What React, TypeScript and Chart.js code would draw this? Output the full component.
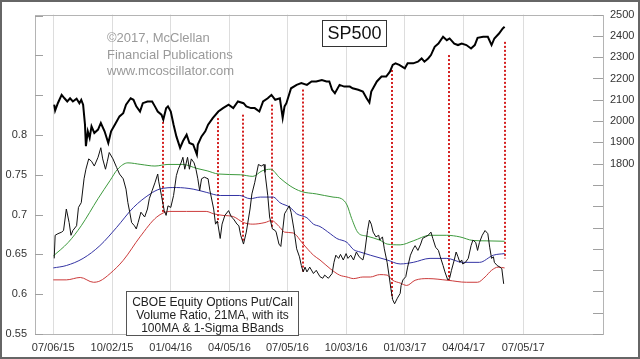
import React, { useEffect, useRef } from "react";
import { Chart, registerables } from "chart.js";
Chart.register(...registerables);

const FONT = "'Liberation Sans', Arial, Helvetica, sans-serif";

// x axis: trading-day index, 0 = 07/06/15
const dateTickIdx = [0, 63, 126, 189, 251, 314, 377, 440, 504];
const dateTickLabels = ["07/06/15", "10/02/15", "01/04/16", "04/05/16", "07/05/16", "10/03/16", "01/03/17", "04/04/17", "07/05/17"];

const ratioTicks = [0.55, 0.6, 0.65, 0.7, 0.75, 0.8, 0.85, 0.9, 0.95];
const ratioTickLabels = ["0.55", "0.6", "0.65", "0.7", "0.75", "0.8", "", "", ""];

const spTicks = [1000, 1100, 1200, 1300, 1400, 1500, 1600, 1700, 1800, 1900, 2000, 2100, 2200, 2300, 2400, 2500];
const spTickLabels = ["", "", "", "", "", "", "", "", "1800", "1900", "2000", "2100", "2200", "2300", "2400", "2500"];

// SP500 close
const spIdx = [1, 2, 5, 9, 12, 15, 18, 21, 25, 28, 30, 32, 34, 35, 37, 39, 41, 44, 48, 51, 55, 59, 62, 66, 71, 75, 78, 83, 86, 89, 93, 96, 101, 106, 109, 112, 116, 118, 121, 123, 126, 129, 132, 136, 139, 143, 146, 150, 154, 155, 159, 163, 166, 171, 177, 182, 188, 193, 198, 204, 207, 212, 216, 221, 225, 230, 234, 238, 243, 246, 248, 250, 255, 261, 266, 272, 277, 282, 288, 293, 296, 299, 302, 307, 312, 318, 321, 327, 332, 336, 339, 341, 347, 352, 357, 361, 364, 367, 371, 377, 380, 386, 391, 395, 398, 402, 405, 409, 413, 418, 422, 425, 430, 434, 438, 443, 448, 452, 455, 461, 466, 470, 473, 478, 482, 484];
const spClose = [2077, 2049, 2085, 2123, 2107, 2092, 2107, 2092, 2105, 2084, 2100, 2077, 1983, 1882, 1952, 1921, 1975, 1944, 1960, 1991, 1952, 1897, 1952, 1983, 2022, 2037, 2077, 2107, 2100, 2069, 2045, 2084, 2092, 2092, 2069, 2045, 2030, 2007, 2060, 2069, 2045, 1983, 1928, 1874, 1905, 1936, 1897, 1890, 1843, 1890, 1928, 1952, 1983, 2014, 2045, 2061, 2077, 2061, 2092, 2084, 2069, 2061, 2061, 2045, 2092, 2107, 2123, 2100, 2107, 2015, 2069, 2084, 2154, 2170, 2178, 2170, 2186, 2186, 2193, 2186, 2186, 2147, 2131, 2170, 2162, 2162, 2154, 2147, 2139, 2107, 2087, 2139, 2186, 2209, 2209, 2232, 2264, 2271, 2264, 2248, 2271, 2271, 2279, 2294, 2279, 2294, 2310, 2349, 2364, 2396, 2380, 2388, 2364, 2357, 2364, 2357, 2341, 2357, 2391, 2396, 2396, 2357, 2388, 2411, 2435, 2443];

// CBOE equity put/call volume ratio, 21MA
const ratioIdx = [1, 2, 5, 9, 11, 14, 17, 19, 21, 25, 27, 30, 33, 35, 38, 41, 44, 48, 51, 53, 56, 58, 60, 64, 68, 71, 75, 78, 80, 82, 84, 87, 89, 91, 94, 98, 101, 103, 106, 109, 112, 113, 116, 119, 121, 123, 126, 129, 132, 134, 137, 139, 141, 144, 146, 148, 151, 153, 155, 157, 159, 162, 166, 168, 172, 174, 176, 179, 181, 184, 188, 191, 193, 197, 199, 201, 204, 207, 211, 213, 216, 220, 223, 226, 227, 230, 232, 235, 238, 239, 242, 244, 246, 248, 250, 253, 255, 258, 261, 264, 266, 268, 270, 272, 275, 279, 282, 286, 289, 291, 295, 299, 301, 303, 306, 308, 311, 314, 316, 319, 322, 325, 328, 332, 334, 337, 339, 341, 343, 346, 349, 350, 353, 355, 358, 360, 362, 364, 366, 369, 372, 373, 375, 378, 380, 383, 386, 388, 391, 394, 396, 399, 402, 405, 407, 410, 413, 415, 418, 420, 423, 425, 427, 430, 432, 434, 436, 438, 439, 442, 445, 448, 450, 453, 455, 457, 460, 463, 466, 468, 470, 472, 473, 476, 479, 481, 483];
const ratioVal = [0.645, 0.674, 0.676, 0.678, 0.68, 0.707, 0.69, 0.674, 0.68, 0.686, 0.709, 0.715, 0.745, 0.757, 0.77, 0.767, 0.761, 0.772, 0.784, 0.77, 0.757, 0.767, 0.778, 0.77, 0.759, 0.751, 0.745, 0.732, 0.715, 0.703, 0.69, 0.686, 0.682, 0.69, 0.703, 0.697, 0.707, 0.72, 0.73, 0.74, 0.751, 0.742, 0.724, 0.705, 0.699, 0.711, 0.709, 0.724, 0.749, 0.757, 0.765, 0.772, 0.757, 0.772, 0.757, 0.77, 0.765, 0.757, 0.745, 0.73, 0.745, 0.747, 0.745, 0.73, 0.707, 0.688, 0.692, 0.67, 0.688, 0.699, 0.705, 0.697, 0.695, 0.688, 0.686, 0.674, 0.663, 0.678, 0.707, 0.726, 0.74, 0.763, 0.761, 0.763, 0.753, 0.724, 0.697, 0.682, 0.68, 0.678, 0.663, 0.66, 0.68, 0.701, 0.705, 0.711, 0.703, 0.682, 0.657, 0.647, 0.636, 0.628, 0.634, 0.628, 0.634, 0.626, 0.63, 0.622, 0.62, 0.624, 0.62, 0.626, 0.64, 0.649, 0.645, 0.65, 0.643, 0.651, 0.645, 0.649, 0.643, 0.653, 0.647, 0.643, 0.653, 0.68, 0.693, 0.688, 0.678, 0.672, 0.674, 0.668, 0.672, 0.657, 0.64, 0.624, 0.607, 0.593, 0.588, 0.595, 0.601, 0.611, 0.618, 0.622, 0.634, 0.649, 0.657, 0.661, 0.655, 0.663, 0.67, 0.672, 0.674, 0.678, 0.67, 0.659, 0.655, 0.647, 0.636, 0.628, 0.618, 0.62, 0.63, 0.643, 0.653, 0.647, 0.64, 0.643, 0.638, 0.64, 0.645, 0.661, 0.668, 0.665, 0.655, 0.665, 0.674, 0.68, 0.676, 0.659, 0.645, 0.647, 0.64, 0.636, 0.634, 0.632, 0.613];

// Upper 1-sigma band
const upperIdx = [0, 16, 30, 48, 61, 69, 80, 94, 109, 123, 139, 154, 165, 177, 201, 214, 224, 233, 243, 254, 266, 282, 300, 309, 315, 320, 327, 336, 350, 358, 372, 386, 404, 422, 436, 450, 465, 484];
const upperVal = [0.648, 0.665, 0.686, 0.72, 0.743, 0.757, 0.765, 0.763, 0.761, 0.763, 0.763, 0.758, 0.755, 0.751, 0.75, 0.748, 0.755, 0.757, 0.746, 0.736, 0.729, 0.726, 0.722, 0.72, 0.712, 0.695, 0.677, 0.673, 0.668, 0.663, 0.662, 0.667, 0.674, 0.674, 0.672, 0.6675, 0.667, 0.6665];

// 100-day moving average
const maIdx = [0, 14, 32, 50, 68, 86, 104, 114, 132, 150, 164, 179, 200, 211, 222, 236, 243, 254, 261, 272, 279, 286, 297, 304, 315, 322, 329, 340, 358, 372, 386, 404, 422, 439, 457, 472, 484];
const maVal = [0.633, 0.636, 0.645, 0.661, 0.684, 0.709, 0.726, 0.732, 0.734, 0.732, 0.728, 0.724, 0.724, 0.72, 0.722, 0.722, 0.715, 0.709, 0.701, 0.696, 0.688, 0.685, 0.676, 0.67, 0.665, 0.656, 0.653, 0.649, 0.643, 0.638, 0.64, 0.645, 0.645, 0.64, 0.64, 0.649, 0.651];

// Lower 1-sigma band
const lowerIdx = [0, 14, 29, 43, 50, 61, 75, 93, 111, 125, 143, 164, 172, 182, 193, 204, 214, 227, 234, 243, 248, 257, 268, 279, 286, 297, 307, 315, 322, 332, 340, 350, 358, 364, 372, 379, 388, 402, 423, 443, 455, 463, 470, 477, 484];
const lowerVal = [0.618, 0.618, 0.621, 0.615, 0.6166, 0.626, 0.6425, 0.672, 0.697, 0.704, 0.704, 0.704, 0.701, 0.699, 0.6975, 0.69, 0.688, 0.69, 0.6925, 0.684, 0.678, 0.677, 0.663, 0.649, 0.643, 0.632, 0.624, 0.6216, 0.6196, 0.6216, 0.6216, 0.6246, 0.624, 0.6175, 0.614, 0.611, 0.6175, 0.6196, 0.6175, 0.615, 0.615, 0.6216, 0.63, 0.634, 0.633];

// Red dotted marker lines: from SP500 level down to put/call ratio level
const markerIdx = [117.6, 176.6, 203.4, 234.5, 267.8, 363.2, 424.3, 484.4];
const markerTop = [2015, 2014, 2030, 2077, 2148, 2240, 2310, 2372];
const markerBottom = [0.703, 0.69, 0.666, 0.683, 0.626, 0.595, 0.6175, 0.645];

const watermarkLines = ["\u00a92017, McClellan", "Financial Publications", "www.mcoscillator.com"];
const titleText = "SP500";
const noteLines = ["CBOE Equity Options Put/Call", "Volume Ratio, 21MA, with its", "100MA & 1-Sigma BBands"];

const overlayPlugin = {
  id: "overlay",
  beforeDraw(chart: any) {
    const { ctx, width, height } = chart;
    ctx.save();
    ctx.fillStyle = "#ffffff";
    ctx.fillRect(0, 0, width, height);
    ctx.restore();
  },
  beforeDatasetsDraw(chart: any) {
    const { ctx } = chart;
    const xs = chart.scales.x;
    const yL = chart.scales.y;
    const yR = chart.scales.y2;
    ctx.save();
    // watermark
    ctx.fillStyle = "#9a9a9a";
    ctx.font = `13px ${FONT}`;
    ctx.textAlign = "left";
    ctx.textBaseline = "alphabetic";
    const wmBase = [42.3, 58.6, 75];
    watermarkLines.forEach((t, i) => ctx.fillText(t, 107, wmBase[i]));
    // markers
    ctx.strokeStyle = "#d42020";
    ctx.lineWidth = 2;
    ctx.setLineDash([2, 2]);
    markerIdx.forEach((m, i) => {
      const px = Math.round(xs.getPixelForValue(m));
      ctx.beginPath();
      ctx.moveTo(px, yR.getPixelForValue(markerTop[i]));
      ctx.lineTo(px, yL.getPixelForValue(markerBottom[i]));
      ctx.stroke();
    });
    ctx.restore();
  },
  afterDraw(chart: any) {
    const { ctx, chartArea } = chart;
    const yL = chart.scales.y;
    const yR = chart.scales.y2;
    const { left, right, top, bottom } = chartArea;
    ctx.save();
    // plot border
    ctx.strokeStyle = "#b4b4b4";
    ctx.lineWidth = 1;
    ctx.strokeRect(Math.round(left) + 0.5, Math.round(top) + 0.5, Math.round(right - left), Math.round(bottom - top));
    // inner tick marks
    ctx.strokeStyle = "#a0a0a0";
    ratioTicks.forEach((v) => {
      const py = Math.round(yL.getPixelForValue(v)) + 0.5;
      ctx.beginPath();
      ctx.moveTo(left, py);
      ctx.lineTo(left + 8, py);
      ctx.stroke();
    });
    spTicks.forEach((v) => {
      const py = Math.round(yR.getPixelForValue(v)) + 0.5;
      ctx.beginPath();
      ctx.moveTo(right - 10, py);
      ctx.lineTo(right, py);
      ctx.stroke();
    });
    // SP500 title box
    ctx.fillStyle = "#ffffff";
    ctx.fillRect(322.5, 20.5, 64, 26);
    ctx.strokeStyle = "#333333";
    ctx.lineWidth = 1;
    ctx.strokeRect(322.5, 20.5, 64, 26);
    ctx.fillStyle = "#111111";
    ctx.font = `18px ${FONT}`;
    ctx.textAlign = "center";
    ctx.textBaseline = "middle";
    ctx.fillText(titleText, 354.5, 34.5);
    // note box
    ctx.fillStyle = "#ffffff";
    ctx.fillRect(126.5, 291.5, 172, 44);
    ctx.strokeStyle = "#555555";
    ctx.strokeRect(126.5, 291.5, 172, 44);
    ctx.fillStyle = "#222222";
    ctx.font = `12px ${FONT}`;
    ctx.textBaseline = "alphabetic";
    const nb = [306, 319.3, 331.7];
    noteLines.forEach((t, i) => ctx.fillText(t, 212.5, nb[i]));
    // outer frame
    ctx.strokeStyle = "#666666";
    ctx.lineWidth = 2;
    ctx.strokeRect(1, 1, 638, 357);
    ctx.restore();
  },
};

const toPts = (xs: number[], ys: number[]) => xs.map((x, i) => ({ x, y: ys[i] }));

export default function App() {
  const ref = useRef<HTMLCanvasElement>(null);
  useEffect(() => {
    if (!ref.current) return;
    const chart = new Chart(ref.current, {
      type: "line",
      data: {
        datasets: [
          { label: "SP500", data: toPts(spIdx, spClose), yAxisID: "y2", borderColor: "#000000", borderWidth: 2, pointRadius: 0, tension: 0 },
          { label: "Put/Call 21MA", data: toPts(ratioIdx, ratioVal), yAxisID: "y", borderColor: "#111111", borderWidth: 1, pointRadius: 0, tension: 0 },
          { label: "Upper band", data: toPts(upperIdx, upperVal), yAxisID: "y", borderColor: "#3d9a3d", borderWidth: 1, pointRadius: 0, cubicInterpolationMode: "monotone" },
          { label: "100MA", data: toPts(maIdx, maVal), yAxisID: "y", borderColor: "#3434a4", borderWidth: 1, pointRadius: 0, cubicInterpolationMode: "monotone" },
          { label: "Lower band", data: toPts(lowerIdx, lowerVal), yAxisID: "y", borderColor: "#cc3b3b", borderWidth: 1, pointRadius: 0, cubicInterpolationMode: "monotone" },
        ],
      } as any,
      options: {
        responsive: false,
        animation: false,
        events: [],
        layout: { padding: { top: 13, left: 0, right: 0, bottom: 0 } },
        plugins: { legend: { display: false }, tooltip: { enabled: false } },
        scales: {
          x: {
            type: "linear",
            min: -19.6,
            max: 589.5,
            afterBuildTicks: (s: any) => { s.ticks = dateTickIdx.map((v) => ({ value: v })); },
            afterFit: (s: any) => { s.height = 25; },
            ticks: { callback: (_v: any, i: number) => dateTickLabels[i], maxRotation: 0, autoSkip: false, padding: 7, color: "#333333", font: { family: FONT, size: 11 } },
            grid: { color: "#dddddd", drawTicks: false, lineWidth: 1 },
            border: { display: false },
          },
          y: {
            type: "linear",
            position: "left",
            min: 0.55,
            max: 0.95125,
            afterBuildTicks: (s: any) => { s.ticks = ratioTicks.map((v) => ({ value: v })); },
            afterFit: (s: any) => { s.width = 35; },
            ticks: { callback: (_v: any, i: number) => ratioTickLabels[i], autoSkip: false, padding: 8, color: "#333333", font: { family: FONT, size: 11 } },
            grid: { display: false, drawTicks: false },
            border: { display: false },
          },
          y2: {
            type: "linear",
            position: "right",
            min: 1000,
            max: 2500,
            afterBuildTicks: (s: any) => { s.ticks = spTicks.map((v) => ({ value: v })); },
            afterFit: (s: any) => { s.width = 37; },
            ticks: { callback: (_v: any, i: number) => spTickLabels[i], autoSkip: false, padding: 7, color: "#333333", font: { family: FONT, size: 11 } },
            grid: { display: false, drawTicks: false },
            border: { display: false },
          },
        },
      } as any,
      plugins: [overlayPlugin],
    });
    return () => chart.destroy();
  }, []);
  return (
    <div style={{ position: "fixed", left: 0, top: 0, width: 640, height: 359, background: "#ffffff" }}>
      <canvas ref={ref} width={640} height={359} style={{ display: "block", width: 640, height: 359 }} />
    </div>
  );
}
